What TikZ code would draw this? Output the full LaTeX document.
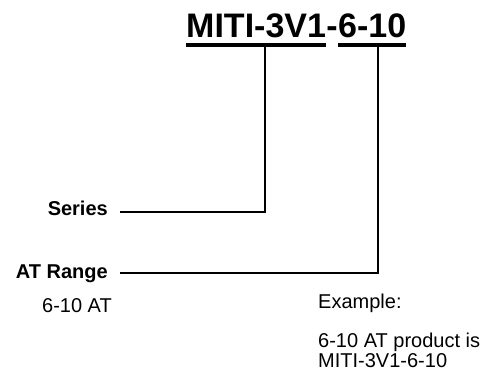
\documentclass[tikz,border=0pt]{standalone}
\usepackage{fontspec}
\setmainfont{Liberation Sans}
\usetikzlibrary{positioning,calc}

\tikzset{
  code/.style={font=\fontsize{34}{34}\selectfont\bfseries, inner sep=0pt, anchor=base west},
  lbl/.style={font=\fontsize{20}{20}\selectfont\bfseries, inner sep=0pt, anchor=base east},
  note/.style={font=\fontsize{20}{18}\selectfont, inner sep=0pt, anchor=base west, align=left},
  bar/.style={line width=4pt},
  lead/.style={line width=2pt},
}

\begin{document}
\begin{tikzpicture}[x=1pt,y=-1pt]
\useasboundingbox (0,0) rectangle (490,374);
% part number
\node[code] (series) at (186,38) {MITI-3V1};
\node[code] (dash) at (series.base east) {-};
\node[code] (range) at (dash.base east) {6-10};
\draw[bar] ([yshift=-7.5pt]series.base west) -- ([yshift=-7.5pt]series.base east);
\draw[bar] ([yshift=-7.5pt]range.base west) -- ([yshift=-7.5pt]range.base east);
\coordinate (seriestap) at ($([yshift=-7.5pt]series.base west)!0.56!([yshift=-7.5pt]series.base east)$);
\coordinate (rangetap) at ($([yshift=-7.5pt]range.base west)!0.58!([yshift=-7.5pt]range.base east)$);

% keys
\node[lbl] (serieslbl) at (108,216) {Series};
\node[lbl] (rangelbl) at (108,278) {AT Range};
\draw[lead] (seriestap) |- ([xshift=12pt,yshift=4pt]serieslbl.base east);
\draw[lead] (rangetap) |- ([xshift=12pt,yshift=5pt]rangelbl.base east);

% values
\node[note, anchor=base east] (rangeval) at (112,312) {6-10 AT};
\node[note] (example) at (318,308) {Example:};
\node[note] (exampletext) at (318,367) {6-10 AT product is\\MITI-3V1-6-10};
\end{tikzpicture}
\end{document}
